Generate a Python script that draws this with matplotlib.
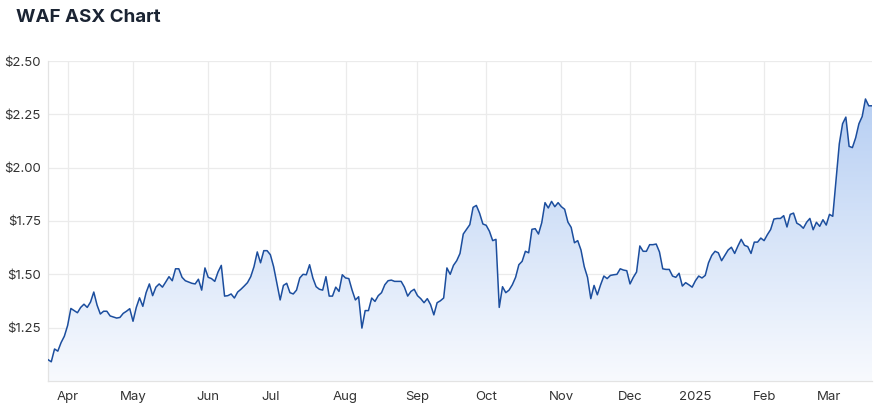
import matplotlib.pyplot as plt
import numpy as np
import pandas as pd
from matplotlib.colors import LinearSegmentedColormap

# daily closes, WAF, 21 Mar 2024 - 20 Mar 2025
prices = [
    1.10, 1.09, 1.15, 1.14, 1.18, 1.21, 1.26, 1.34, 1.33, 1.32,
    1.345, 1.36, 1.345, 1.37, 1.417, 1.356, 1.314, 1.327, 1.327, 1.305,
    1.30, 1.295, 1.298, 1.317, 1.327, 1.339, 1.28, 1.345, 1.39, 1.35,
    1.414, 1.455, 1.40, 1.44, 1.455, 1.44, 1.464, 1.489, 1.47, 1.526,
    1.526, 1.486, 1.47, 1.464, 1.458, 1.455, 1.477, 1.426, 1.53, 1.486,
    1.48, 1.467, 1.511, 1.542, 1.398, 1.40, 1.408, 1.389, 1.417, 1.43,
    1.445, 1.461, 1.489, 1.536, 1.605, 1.554, 1.611, 1.611, 1.592, 1.536,
    1.458, 1.38, 1.448, 1.458, 1.414, 1.408, 1.426, 1.483, 1.50, 1.498,
    1.545, 1.483, 1.442, 1.43, 1.426, 1.489, 1.398, 1.398, 1.44, 1.42,
    1.498, 1.483, 1.48, 1.426, 1.38, 1.395, 1.248, 1.33, 1.33, 1.389,
    1.373, 1.40, 1.414, 1.451, 1.47, 1.473, 1.467, 1.467, 1.467, 1.44,
    1.398, 1.42, 1.43, 1.40, 1.386, 1.367, 1.386, 1.358, 1.31, 1.367,
    1.376, 1.389, 1.53, 1.50, 1.542, 1.564, 1.598, 1.689, 1.711, 1.733,
    1.814, 1.823, 1.786, 1.736, 1.73, 1.702, 1.658, 1.664, 1.345, 1.442,
    1.414, 1.426, 1.451, 1.486, 1.545, 1.561, 1.608, 1.601, 1.711, 1.714,
    1.689, 1.742, 1.836, 1.811, 1.842, 1.817, 1.836, 1.817, 1.805, 1.745,
    1.72, 1.648, 1.658, 1.614, 1.536, 1.486, 1.386, 1.448, 1.404, 1.451,
    1.492, 1.48, 1.495, 1.498, 1.50, 1.526, 1.52, 1.517, 1.455, 1.486,
    1.511, 1.633, 1.608, 1.608, 1.639, 1.639, 1.642, 1.605, 1.526, 1.523,
    1.523, 1.492, 1.486, 1.505, 1.445, 1.461, 1.451, 1.44, 1.47, 1.492,
    1.483, 1.495, 1.554, 1.589, 1.608, 1.601, 1.564, 1.589, 1.614, 1.627,
    1.598, 1.633, 1.664, 1.636, 1.63, 1.598, 1.651, 1.651, 1.67, 1.658,
    1.686, 1.71, 1.759, 1.762, 1.762, 1.775, 1.722, 1.781, 1.787, 1.74,
    1.731, 1.716, 1.744, 1.762, 1.709, 1.744, 1.725, 1.756, 1.731, 1.781,
    1.772, 1.94, 2.112, 2.206, 2.237, 2.10, 2.094, 2.14, 2.206, 2.24,
    2.322, 2.29, 2.29,
]

# ASX trading calendar, x axis is trading days not calendar days
holidays = ['2024-03-29', '2024-04-01', '2024-04-25', '2024-06-10',
            '2024-12-25', '2024-12-26', '2025-01-01', '2025-01-27']
days = pd.bdate_range('2024-03-21', '2025-03-20')
days = days[~days.isin(pd.to_datetime(holidays))]

month_labels = ['Apr', 'May', 'Jun', 'Jul', 'Aug', 'Sep', 'Oct', 'Nov',
                'Dec', '2025', 'Feb', 'Mar']
y_ticks = [1.25, 1.50, 1.75, 2.00, 2.25, 2.50]

plt.rcParams['font.family'] = ['Inter', 'DejaVu Sans']

fig = plt.figure(figsize=(8.76, 4.13), dpi=100)
ax = fig.add_axes([48 / 876, 1 - 381 / 413, 824 / 876, 320 / 413])

x = np.arange(len(prices))
ymin, ymax = 1.0, 2.5

# gradient fill under the line
cmap = LinearSegmentedColormap.from_list('blu', ['#f8fafe', '#b7cff3'])
grad = np.linspace(0, 1, 256).reshape(-1, 1)
poly = ax.fill_between(x, prices, ymin, color='none', lw=0)
im = ax.imshow(grad, extent=[x[0], x[-1], ymin, max(prices)], aspect='auto',
               cmap=cmap, origin='lower', zorder=1)
im.set_clip_path(poly.get_paths()[0], transform=ax.transData)

ax.plot(x, prices, color='#1c4e9e', lw=1.1, zorder=3)

ticks = [i for i in range(1, len(days)) if days[i].month != days[i - 1].month]
ax.set_xticks(ticks)
ax.set_xticklabels(month_labels)
ax.set_yticks(y_ticks)
ax.set_yticklabels(['${:.2f}'.format(v) for v in y_ticks])
ax.set_xlim(0, len(prices) - 1)
ax.set_ylim(ymin, ymax)

ax.grid(True, color='#ebebeb', lw=0.9, zorder=0)
ax.set_axisbelow(True)
for s in ['top', 'right']:
    ax.spines[s].set_visible(False)
for s in ['left', 'bottom']:
    ax.spines[s].set_color('#e3e3e3')
    ax.spines[s].set_linewidth(0.9)
ax.tick_params(length=0, labelsize=9.5, colors='#333333')
ax.tick_params(axis='x', pad=7)
ax.tick_params(axis='y', pad=5)

fig.text(16 / 876, 1 - 18 / 413, 'WAF ASX Chart', fontsize=13.5,
         fontweight='bold', color='#1b2433', va='center', ha='left')

fig.savefig('out.png', dpi=100)
